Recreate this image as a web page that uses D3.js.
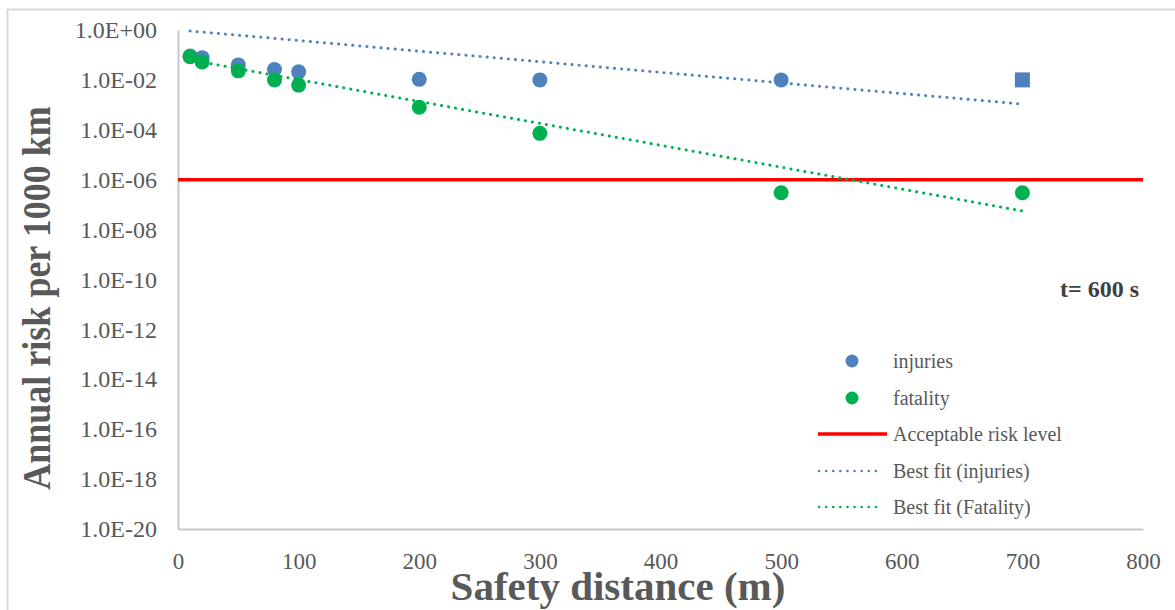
<!DOCTYPE html>
<html>
<head>
<meta charset="utf-8">
<script src="https://cdn.jsdelivr.net/npm/d3@7"></script>
<style>
  html, body { margin: 0; padding: 0; background: #ffffff; }
  svg { display: block; }
  text { font-family: "Liberation Serif", "Times New Roman", serif; }
</style>
</head>
<body>
<svg id="chart" width="1175" height="610"></svg>
<script>
// Safety distance (m) at which the risk was evaluated
const distances = [10, 20, 50, 80, 100, 200, 300, 500, 700];
// Annual risk per 1000 km, t = 600 s
const injuries = [0.09, 0.078, 0.04, 0.026, 0.021, 0.0105, 0.0100, 0.0100, 0.0100];
const injuriesMarker = ["circle", "circle", "circle", "circle", "circle", "circle", "circle", "circle", "square"];
const fatality = [0.085, 0.052, 0.023, 0.0100, 0.0062, 0.0008, 0.000072, 3.0e-7, 3.0e-7];

// Exponential best-fit lines (end points)
const fitDistances = [10, 700];
const injuriesFit = [0.91, 0.00107];
const fatalityFit = [0.063, 5.6e-8];

// Acceptable risk level
const acceptableRisk = 1e-6;
const acceptableRange = [0, 800];

// Axis ticks
const xTickValues = [0, 100, 200, 300, 400, 500, 600, 700, 800];
const yTickValues = [1e0, 1e-2, 1e-4, 1e-6, 1e-8, 1e-10, 1e-12, 1e-14, 1e-16, 1e-18, 1e-20];
const yTickLabels = ["1.0E+00", "1.0E-02", "1.0E-04", "1.0E-06", "1.0E-08", "1.0E-10",
                     "1.0E-12", "1.0E-14", "1.0E-16", "1.0E-18", "1.0E-20"];

const legendItems = [
  { label: "injuries", kind: "dot", color: "#4f81bd" },
  { label: "fatality", kind: "dot", color: "#00b050" },
  { label: "Acceptable risk level", kind: "solid", color: "#ff0000" },
  { label: "Best fit (injuries)", kind: "dotted", color: "#4f81bd" },
  { label: "Best fit (Fatality)", kind: "dotted", color: "#00b050" }
];

const BLUE = "#4f81bd", GREEN = "#00b050", RED = "#ff0000";
const AXIS = "#c8c8c8", TEXT = "#595959";

const svg = d3.select("#chart");

// chart frame
svg.append("rect")
  .attr("x", 7.5).attr("y", 9.5)
  .attr("width", 1200).attr("height", 700)
  .attr("fill", "none").attr("stroke", "#d9d9d9").attr("stroke-width", 2);

const x = d3.scaleLinear().domain([0, 800]).range([178, 1143]);
const y = d3.scaleLog().domain([1e-20, 1]).range([529, 30]);

// y axis
const yAxis = svg.append("g")
  .attr("transform", `translate(${x(0)},0)`)
  .call(d3.axisLeft(y).tickValues(yTickValues)
    .tickFormat((d, i) => yTickLabels[i]).tickSize(0).tickPadding(21));
yAxis.select(".domain").attr("stroke", AXIS).attr("stroke-width", 2);
yAxis.selectAll("text").attr("fill", TEXT).attr("font-size", 24)
  .style("font-family", "'Liberation Serif', serif");

// x axis
const xAxis = svg.append("g")
  .attr("transform", `translate(0,${y(1e-20)})`)
  .call(d3.axisBottom(x).tickValues(xTickValues).tickFormat(d3.format("d"))
    .tickSize(0).tickPadding(24));
xAxis.select(".domain").attr("stroke", AXIS).attr("stroke-width", 2);
xAxis.selectAll("text").attr("fill", TEXT).attr("font-size", 23)
  .style("font-family", "'Liberation Serif', serif");

// axis titles
svg.append("text")
  .attr("transform", `translate(50,298) scale(1.12,1) rotate(-90)`)
  .attr("text-anchor", "middle")
  .attr("font-size", 36).attr("font-weight", "bold").attr("fill", TEXT)
  .text("Annual risk per 1000 km");

svg.append("text")
  .attr("x", 618).attr("y", 600)
  .attr("text-anchor", "middle")
  .attr("font-size", 41).attr("font-weight", "bold").attr("fill", TEXT)
  .text("Safety distance (m)");

// acceptable risk level
svg.append("line")
  .attr("x1", x(acceptableRange[0])).attr("x2", x(acceptableRange[1]))
  .attr("y1", y(acceptableRisk)).attr("y2", y(acceptableRisk))
  .attr("stroke", RED).attr("stroke-width", 3.5);

// data points
const pts = svg.append("g");
function drawSeries(values, color, shapes) {
  values.forEach((v, i) => {
    const cx = x(distances[i]), cy = y(v);
    if (shapes && shapes[i] === "square") {
      pts.append("rect").attr("x", cx - 7.5).attr("y", cy - 7.5)
        .attr("width", 15).attr("height", 15).attr("fill", color);
    } else {
      pts.append("circle").attr("cx", cx).attr("cy", cy).attr("r", 7.5).attr("fill", color);
    }
  });
}
drawSeries(injuries, BLUE, injuriesMarker);
drawSeries(fatality, GREEN, null);

// best-fit lines
const fitLine = d3.line().x(d => x(d[0])).y(d => y(d[1]));
[[injuriesFit, BLUE], [fatalityFit, GREEN]].forEach(([vals, color]) => {
  svg.append("path")
    .attr("d", fitLine(fitDistances.map((d, i) => [d, vals[i]])))
    .attr("fill", "none").attr("stroke", color)
    .attr("stroke-width", 3).attr("stroke-linecap", "round")
    .attr("stroke-dasharray", "0.1 7");
});

// annotation
svg.append("text")
  .attr("x", 1060).attr("y", 297)
  .attr("font-size", 24).attr("font-weight", "bold").attr("fill", "#404040")
  .text("t= 600 s");

// legend
const legend = svg.append("g");
const rowY = [361, 398, 434, 471, 507];
legendItems.forEach((item, i) => {
  const ry = rowY[i];
  if (item.kind === "dot") {
    legend.append("circle").attr("cx", 852).attr("cy", ry).attr("r", 6.5).attr("fill", item.color);
  } else if (item.kind === "solid") {
    legend.append("line").attr("x1", 818).attr("x2", 887).attr("y1", ry).attr("y2", ry)
      .attr("stroke", item.color).attr("stroke-width", 3.5);
  } else {
    legend.append("line").attr("x1", 819).attr("x2", 882).attr("y1", ry).attr("y2", ry)
      .attr("stroke", item.color).attr("stroke-width", 2.5)
      .attr("stroke-linecap", "round").attr("stroke-dasharray", "0.1 7");
  }
  legend.append("text")
    .attr("x", 893).attr("y", ry).attr("dy", "0.35em")
    .attr("font-size", 20).attr("fill", TEXT)
    .text(item.label);
});
</script>
</body>
</html>
